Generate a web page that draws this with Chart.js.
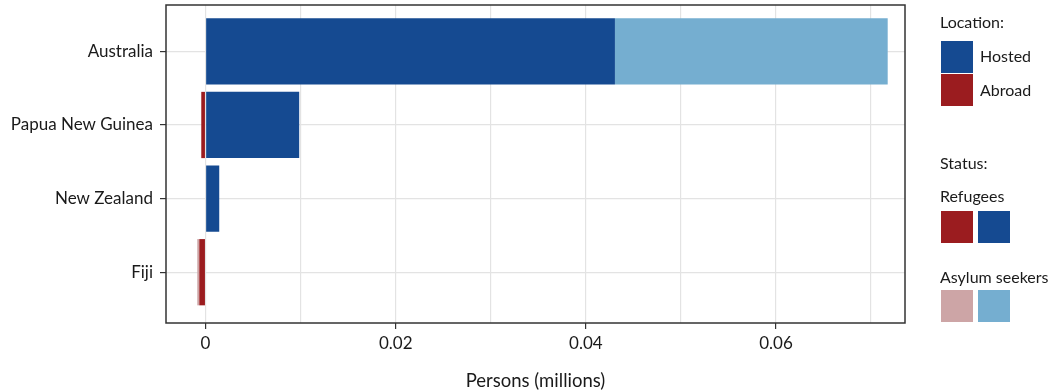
<!DOCTYPE html>
<html>
<head>
<meta charset="utf-8">
<script src="https://cdn.jsdelivr.net/npm/chart.js@4"></script>
<style>
  html, body { margin: 0; padding: 0; background: #fff; }
  #wrap { position: relative; width: 1052px; height: 392px; font-family: Lato, "Open Sans", sans-serif; color: #1a1a1a; }
  canvas { position: absolute; left: 0; top: 0; }
  .lg { position: absolute; font-size: 16px; line-height: 20px; white-space: nowrap; }
  .sw { position: absolute; width: 32px; height: 32px; }
</style>
</head>
<body>
<div id="wrap">
  <canvas id="c" width="1052" height="392"></canvas>
  <div class="lg" style="left:940px; top:12px;">Location:</div>
  <div class="sw" style="left:941px; top:41px; background:#154a91;"></div>
  <div class="sw" style="left:941px; top:74px; background:#9b1c1f;"></div>
  <div class="lg" style="left:980px; top:46px;">Hosted</div>
  <div class="lg" style="left:980px; top:80px;">Abroad</div>
  <div class="lg" style="left:940px; top:153px;">Status:</div>
  <div class="lg" style="left:940px; top:186px;">Refugees</div>
  <div class="sw" style="left:941px; top:211px; background:#9b1c1f;"></div>
  <div class="sw" style="left:978px; top:211px; background:#154a91;"></div>
  <div class="lg" style="left:940px; top:267px;">Asylum seekers</div>
  <div class="sw" style="left:941px; top:290px; background:#cda5a6;"></div>
  <div class="sw" style="left:978px; top:290px; background:#75aed0;"></div>
</div>
<script>
const categories = ["Australia", "Papua New Guinea", "New Zealand", "Fiji"];
const hostedRefugees = [0.04306, 0.00985, 0.00144, 0.0];
const hostedAsylum   = [0.02869, 0.0, 0.0, 0.0];
const abroadRefugees = [0.0, -0.00045, 0.0, -0.00066];
const abroadAsylum   = [0.0, 0.0, 0.0, -0.00021];
const xTickValues = [0, 0.01, 0.02, 0.03, 0.04, 0.05, 0.06, 0.07];
const xTickLabels = ["0", "", "0.02", "", "0.04", "", "0.06", ""];

function pts(arr) { return arr.map((v, i) => ({ x: v, y: i + 1 })); }

const borderPlugin = {
  id: 'panelBorder',
  afterDraw(chart) {
    const a = chart.chartArea, ctx = chart.ctx;
    ctx.save();
    ctx.strokeStyle = '#333333';
    ctx.lineWidth = 1.5;
    ctx.strokeRect(a.left, a.top, a.right - a.left, a.bottom - a.top);
    ctx.restore();
  }
};

new Chart(document.getElementById('c'), {
  type: 'bar',
  data: {
    datasets: [
      { label: 'Hosted refugees', data: pts(hostedRefugees), backgroundColor: '#154a91', stack: 's' },
      { label: 'Hosted asylum seekers', data: pts(hostedAsylum), backgroundColor: '#75aed0', stack: 's' },
      { label: 'Abroad refugees', data: pts(abroadRefugees), backgroundColor: '#9b1c1f', stack: 's' },
      { label: 'Abroad asylum seekers', data: pts(abroadAsylum), backgroundColor: '#cda5a6', stack: 's' }
    ]
  },
  options: {
    indexAxis: 'y',
    responsive: false,
    animation: false,
    layout: { padding: { top: 5, right: 147, left: 0, bottom: 0 } },
    datasets: { bar: { barPercentage: 0.9, categoryPercentage: 1.0, borderWidth: 0 } },
    plugins: { legend: { display: false }, tooltip: { enabled: false } },
    scales: {
      x: {
        type: 'linear',
        stacked: true,
        min: -0.00416,
        max: 0.07357,
        afterFit: s => { s.height = 69; s.paddingLeft = 0; s.paddingRight = 0; },
        afterBuildTicks: s => { s.ticks = xTickValues.map(v => ({ value: v })); },
        ticks: {
          autoSkip: false,
          maxRotation: 0,
          color: '#1a1a1a',
          font: { family: 'Lato', size: 17 },
          padding: 4,
          callback: (v, i) => xTickLabels[i]
        },
        grid: {
          color: '#e3e3e3',
          lineWidth: 1.2,
          drawTicks: true,
          tickLength: 6,
          tickColor: ctx => (xTickLabels[ctx.index] ? '#333333' : 'rgba(0,0,0,0)')
        },
        border: { display: false },
        title: { display: true, text: 'Persons (millions)', color: '#1a1a1a', font: { family: 'Lato', size: 18.5 }, padding: { top: 12, bottom: 0 } }
      },
      y: {
        type: 'linear',
        stacked: true,
        reverse: true,
        offset: false,
        min: 0.37,
        max: 4.69,
        afterFit: s => { s.width = 166; s.paddingTop = 0; s.paddingBottom = 0; },
        afterBuildTicks: s => { s.ticks = categories.map((c, i) => ({ value: i + 1 })); },
        ticks: {
          color: '#1a1a1a',
          font: { family: 'Lato', size: 17 },
          padding: 7,
          callback: (v, i) => categories[i]
        },
        grid: { offset: false, color: '#e3e3e3', lineWidth: 1.2, tickLength: 6, tickColor: '#333333' },
        border: { display: false }
      }
    }
  },
  plugins: [borderPlugin]
});
</script>
</body>
</html>
